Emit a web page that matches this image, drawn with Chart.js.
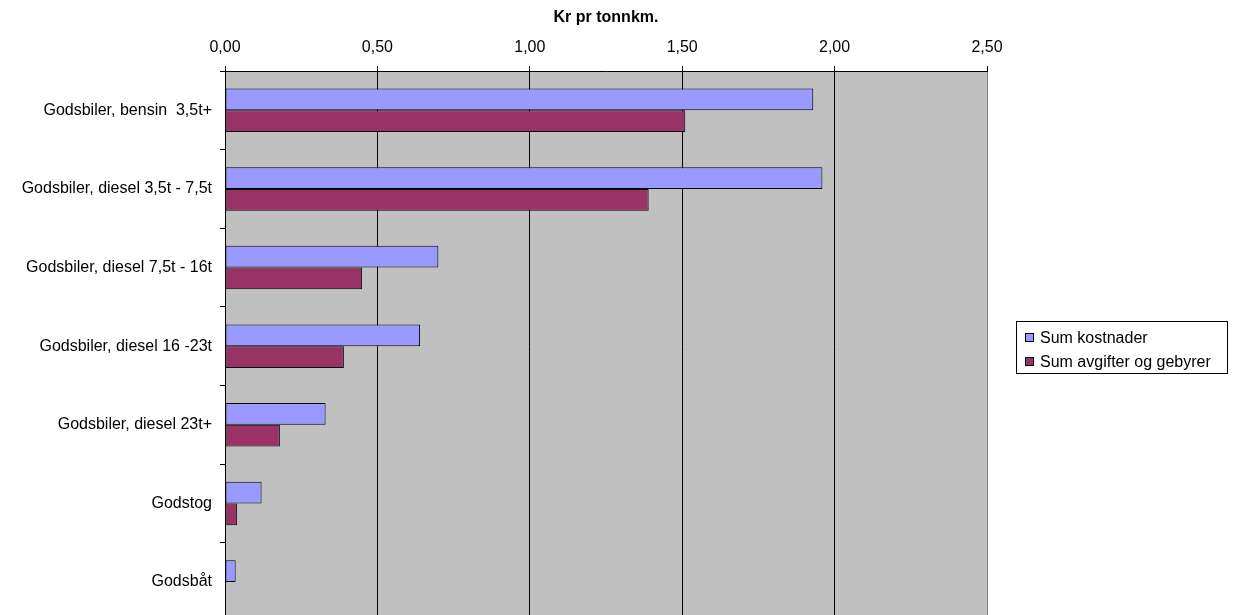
<!DOCTYPE html>
<html>
<head>
<meta charset="utf-8">
<script src="https://cdn.jsdelivr.net/npm/chart.js@4/dist/chart.umd.min.js"></script>
<style>
  html, body { margin: 0; padding: 0; background: #fff; overflow: hidden; }
  canvas { display: block; }
</style>
</head>
<body>
<canvas id="myChart" width="1234" height="639"></canvas>
<script>
const categories = [
    'Godsbiler, bensin  3,5t+',
    'Godsbiler, diesel 3,5t - 7,5t',
    'Godsbiler, diesel 7,5t - 16t',
    'Godsbiler, diesel 16 -23t',
    'Godsbiler, diesel 23t+',
    'Godstog',
    'Godsbåt'
];
const sumKostnader = [1.93, 1.96, 0.70, 0.64, 0.33, 0.12, 0.035];
const sumAvgifter = [1.51, 1.39, 0.45, 0.39, 0.18, 0.04, 0];
const xTitle = 'Kr pr tonnkm.';
const seriesNames = ['Sum kostnader', 'Sum avgifter og gebyrer'];

const fontFamily = '"Liberation Sans", Arial, sans-serif';

// gray plot area like the old Excel chart
const plotBg = {
    id: 'plotBg',
    beforeDraw(chart) {
        const a = chart.chartArea;
        const ctx = chart.ctx;
        ctx.save();
        ctx.fillStyle = '#C0C0C0';
        ctx.fillRect(a.left, a.top, a.right - a.left, a.bottom - a.top);
        ctx.restore();
    }
};

// boxed legend on the right
const boxLegend = {
    id: 'boxLegend',
    afterDraw(chart) {
        const ctx = chart.ctx;
        const x = 1016.5, y = 321.5, w = 211, h = 52;
        ctx.save();
        ctx.fillStyle = '#fff';
        ctx.fillRect(x, y, w, h);
        ctx.strokeStyle = '#000';
        ctx.lineWidth = 1;
        ctx.strokeRect(x, y, w, h);
        ctx.font = '16px ' + fontFamily;
        ctx.textBaseline = 'middle';
        chart.data.datasets.forEach((ds, i) => {
            const cy = 338 + i * 24;
            ctx.fillStyle = ds.backgroundColor;
            ctx.fillRect(1025.5, cy - 4.5, 8, 8);
            ctx.strokeRect(1025.5, cy - 4.5, 8, 8);
            ctx.fillStyle = '#000';
            ctx.fillText(ds.label, 1040, cy + 1);
        });
        ctx.restore();
    }
};

new Chart('myChart', {
    type: 'bar',
    data: {
        labels: categories,
        datasets: [{
            label: seriesNames[0],
            data: sumKostnader,
            backgroundColor: '#9999FF',
            borderColor: '#000',
            borderWidth: 1,
            borderSkipped: false,
            categoryPercentage: 0.553,
            barPercentage: 1.0
        }, {
            label: seriesNames[1],
            data: sumAvgifter,
            backgroundColor: '#993366',
            borderColor: '#000',
            borderWidth: 1,
            borderSkipped: false,
            categoryPercentage: 0.553,
            barPercentage: 1.0
        }]
    },
    options: {
        indexAxis: 'y',
        responsive: false,
        animation: false,
        layout: { padding: { left: 0, right: 247, top: 0, bottom: 0 } },
        plugins: {
            legend: { display: false },
            tooltip: { enabled: false }
        },
        scales: {
            x: {
                position: 'top',
                min: 0,
                max: 2.5,
                afterFit(scale) { scale.height = 71; },
                ticks: {
                    stepSize: 0.5,
                    color: '#000',
                    padding: 9,
                    font: { family: fontFamily, size: 16 },
                    callback: v => v.toFixed(2).replace('.', ',')
                },
                grid: {
                    color: ctx => (ctx.tick && ctx.tick.value === 2.5) ? '#808080' : '#000',
                    tickColor: '#000',
                    tickLength: 5,
                    lineWidth: 1
                },
                border: { color: '#000' },
                title: {
                    display: true,
                    text: xTitle,
                    color: '#000',
                    font: { family: fontFamily, size: 16, weight: 'bold' },
                    padding: { top: 8, bottom: 0 }
                }
            },
            y: {
                afterFit(scale) { scale.width = 225; },
                ticks: {
                    color: '#000',
                    padding: 8,
                    font: { family: fontFamily, size: 16 }
                },
                grid: {
                    offset: true,
                    drawOnChartArea: false,
                    drawTicks: true,
                    tickLength: 5,
                    tickColor: '#000'
                },
                border: { color: '#000' }
            }
        }
    },
    plugins: [plotBg, boxLegend]
});
</script>
</body>
</html>
